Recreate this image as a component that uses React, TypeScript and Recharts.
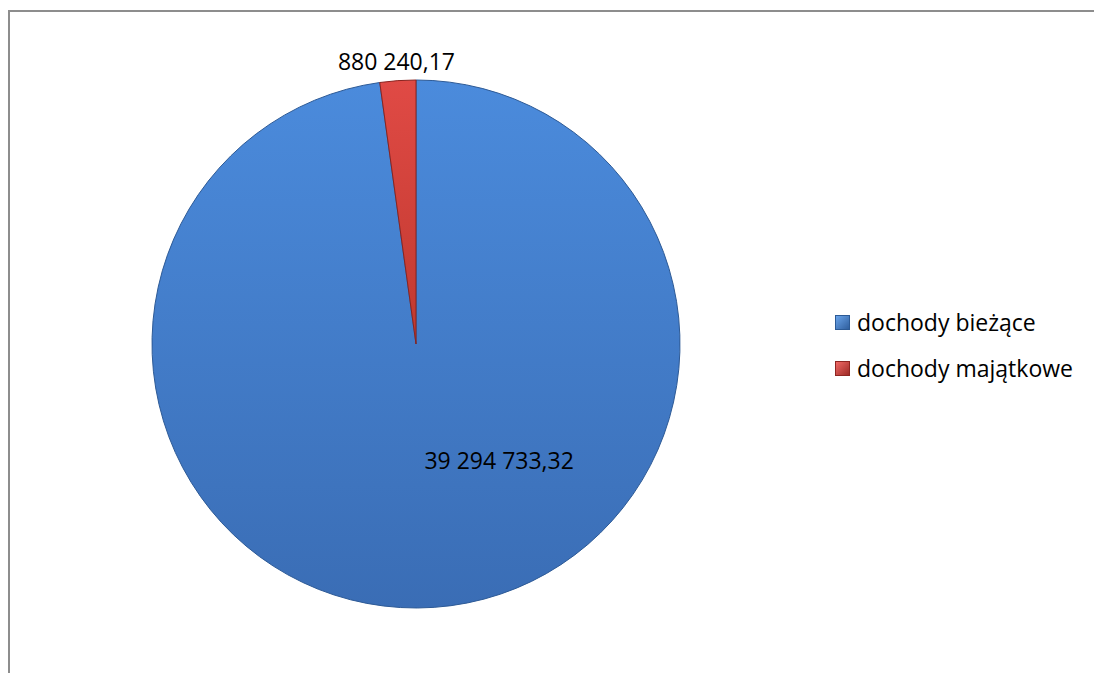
import React from 'react';
import { PieChart, Pie, Cell, Legend } from 'recharts';

const categories = ['dochody bieżące', 'dochody majątkowe'];
const values = [39294733.32, 880240.17];
const valueLabels = ['39 294 733,32', '880 240,17'];

const FONT = '"Open Sans", "Noto Sans", sans-serif';

const data = categories.map((name, i) => ({ name, value: values[i], label: valueLabels[i] }));

const renderLabel = (props: any) => {
  const { cx, cy, outerRadius, midAngle, index } = props;
  let x: number;
  let y: number;
  if (index === 0) {
    // Excel "best fit" puts the big slice label low and to the right
    x = cx + outerRadius * 0.315;
    y = cy + outerRadius * 0.44;
  } else {
    const r = outerRadius + 20;
    const rad = (-midAngle * Math.PI) / 180;
    x = cx + r * Math.cos(rad);
    y = cy + r * Math.sin(rad);
  }
  return (
    <text x={x} y={y} textAnchor="middle" dominantBaseline="central" fill="#000" fontSize={23} fontFamily={FONT}>
      {data[index].label}
    </text>
  );
};

const LegendContent = () => (
  <div style={{ fontFamily: FONT, fontSize: 23, color: '#000' }}>
    {categories.map((c, i) => (
      <div key={c} style={{ display: 'flex', alignItems: 'center', height: 46 }}>
        <span
          style={{
            display: 'inline-block',
            width: 13,
            height: 13,
            marginRight: 7,
            background: i === 0
              ? 'linear-gradient(135deg, #6aa4ea, #2f5f9e)'
              : 'linear-gradient(135deg, #f06a66, #9e2a26)',
            border: i === 0 ? '1px solid #2c5a95' : '1px solid #8f2622',
          }}
        />
        <span>{c}</span>
      </div>
    ))}
  </div>
);

export default function App() {
  return (
    <div style={{ position: 'absolute', left: 0, top: 0, width: 1094, height: 673, overflow: 'hidden', background: '#fff' }}>
      <style>{`body{margin:0;overflow:hidden}`}</style>
      <div
        style={{
          position: 'absolute',
          left: 8,
          top: 10,
          width: 1086,
          height: 663,
          borderTop: '2px solid #8d8d8d',
          borderLeft: '2px solid #8d8d8d',
          boxSizing: 'border-box',
        }}
      />
      <div style={{ position: 'absolute', left: 0, top: 0 }}>
        <PieChart width={1094} height={673} margin={{ top: 0, right: 0, bottom: 0, left: 0 }}>
          <defs>
            <linearGradient id="blueGrad" x1="0" y1="0" x2="0" y2="1">
              <stop offset="0%" stopColor="#4b8bdc" />
              <stop offset="100%" stopColor="#3a6db5" />
            </linearGradient>
            <linearGradient id="redGrad" x1="0" y1="0" x2="0" y2="1">
              <stop offset="0%" stopColor="#e04a45" />
              <stop offset="100%" stopColor="#c0392f" />
            </linearGradient>
          </defs>
          <Pie
            data={data}
            dataKey="value"
            nameKey="name"
            cx={416}
            cy={344}
            outerRadius={264}
            startAngle={90}
            endAngle={-270}
            labelLine={false}
            label={renderLabel}
            isAnimationActive={false}
          >
            <Cell fill="url(#blueGrad)" stroke="#2d5a96" strokeWidth={1} />
            <Cell fill="url(#redGrad)" stroke="#8a2420" strokeWidth={1} />
          </Pie>
          <Legend
            layout="vertical"
            content={<LegendContent />}
            wrapperStyle={{ position: 'absolute', left: 835, top: 299, width: 260 }}
          />
        </PieChart>
      </div>
    </div>
  );
}
